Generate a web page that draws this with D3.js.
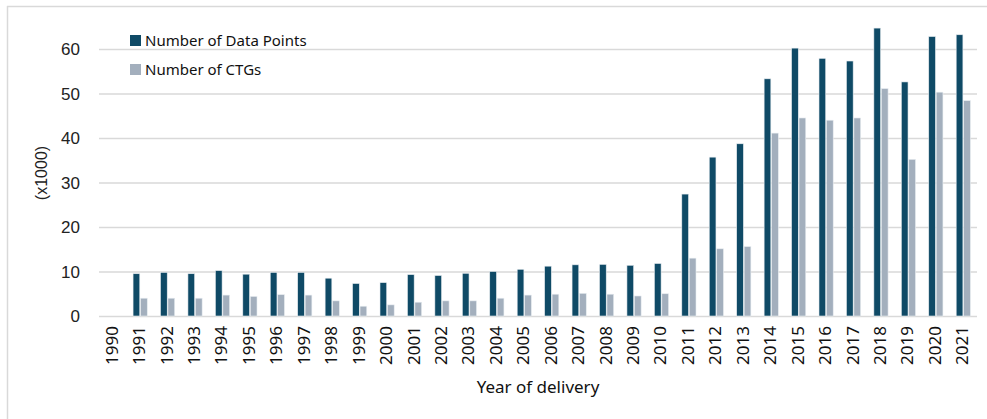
<!DOCTYPE html>
<html>
<head>
<meta charset="utf-8">
<script src="https://cdn.jsdelivr.net/npm/d3@7"></script>
<style>
  html, body { margin: 0; padding: 0; background: #fff; }
  svg { display: block; }
</style>
</head>
<body>
<svg id="chart" width="987" height="419"></svg>
<script>
const years = ["1990","1991","1992","1993","1994","1995","1996","1997","1998","1999","2000","2001","2002","2003","2004","2005","2006","2007","2008","2009","2010","2011","2012","2013","2014","2015","2016","2017","2018","2019","2020","2021"];
const dataPoints = [0,9.5,9.8,9.5,10.2,9.4,9.8,9.8,8.5,7.3,7.5,9.3,9.1,9.6,10.0,10.5,11.2,11.5,11.6,11.4,11.8,27.4,35.7,38.7,53.3,60.2,57.9,57.3,64.7,52.6,62.8,63.2];
const ctgs = [0,4.0,4.0,4.0,4.7,4.4,4.8,4.7,3.4,2.2,2.5,3.1,3.4,3.4,4.0,4.7,4.9,5.1,4.9,4.5,5.0,13.0,15.1,15.6,41.1,44.5,44.0,44.5,51.1,35.2,50.3,48.4];
const seriesNames = ["Number of Data Points", "Number of CTGs"];
const yTicks = [0,10,20,30,40,50,60];

const colors = ["#0f4a66", "#a3afbd"];
const svg = d3.select("#chart");

// outer frame (left + top edges)
svg.append("line").attr("x1",7.5).attr("x2",7.5).attr("y1",6).attr("y2",419).attr("stroke","#d9d9d9").attr("stroke-width",1.5);
svg.append("line").attr("x1",7).attr("x2",987).attr("y1",6.5).attr("y2",6.5).attr("stroke","#d9d9d9").attr("stroke-width",1.5);

const x0 = d3.scaleBand().domain(years).range([99, 977]).paddingInner(0).paddingOuter(0);
const y = d3.scaleLinear().domain([0, 60]).range([316, 49]);

// gridlines
svg.append("g").selectAll("line").data(yTicks).join("line")
  .attr("x1", 99).attr("x2", 977)
  .attr("y1", d => y(d) + 0.5).attr("y2", d => y(d) + 0.5)
  .attr("stroke", "#d9d9d9").attr("stroke-width", 1.5);

// y labels
svg.append("g").selectAll("text").data(yTicks).join("text")
  .attr("x", 80).attr("y", d => y(d) + 6)
  .attr("text-anchor", "end")
  .attr("font-family", "Liberation Sans, Arial, sans-serif")
  .attr("font-size", 17).attr("fill", "#222")
  .text(d => d);

// y title
svg.append("text")
  .attr("transform", "translate(47,173) rotate(-90)")
  .attr("text-anchor", "middle")
  .attr("font-family", "Liberation Sans, Arial, sans-serif")
  .attr("font-size", 16).attr("fill", "#222")
  .text("(x1000)");

const x1 = d3.scaleBand().domain([0, 1]).range([0, 14.2]).paddingInner(0.1);
const barOffset = (x0.bandwidth() - 14.2) / 2;

const groups = svg.append("g").selectAll("g").data(years).join("g")
  .attr("transform", d => `translate(${x0(d) + barOffset},0)`);

groups.selectAll("rect").data((d, i) => [dataPoints[i], ctgs[i]]).join("rect")
  .attr("x", (d, j) => x1(j))
  .attr("width", x1.bandwidth())
  .attr("y", d => y(d))
  .attr("height", d => y(0) - y(d))
  .attr("fill", (d, j) => colors[j])
  .attr("stroke", "#e8edf1").attr("stroke-width", 0.6)
  .attr("visibility", d => d > 0 ? "visible" : "hidden");

// x labels
svg.append("g").selectAll("text").data(years).join("text")
  .attr("transform", d => `translate(${x0(d) + x0.bandwidth()/2 + 5},326) rotate(-90)`)
  .attr("text-anchor", "end")
  .attr("font-family", "Noto Sans, Open Sans, sans-serif")
  .attr("font-size", 17).attr("fill", "#111")
  .text(d => d);

// x title
svg.append("text")
  .attr("x", 538).attr("y", 393)
  .attr("text-anchor", "middle")
  .attr("font-family", "Noto Sans, Open Sans, sans-serif")
  .attr("font-size", 17).attr("fill", "#111")
  .text("Year of delivery");

// legend
const legend = svg.append("g").selectAll("g").data(seriesNames).join("g")
  .attr("transform", (d, i) => `translate(130,${35 + i * 29})`);
legend.append("rect").attr("width", 11).attr("height", 11).attr("fill", (d, i) => colors[i]);
legend.append("text").attr("x", 15).attr("y", 10.5)
  .attr("font-family", "Noto Sans, Open Sans, sans-serif")
  .attr("font-size", 15).attr("fill", "#111")
  .text(d => d);
</script>
</body>
</html>
